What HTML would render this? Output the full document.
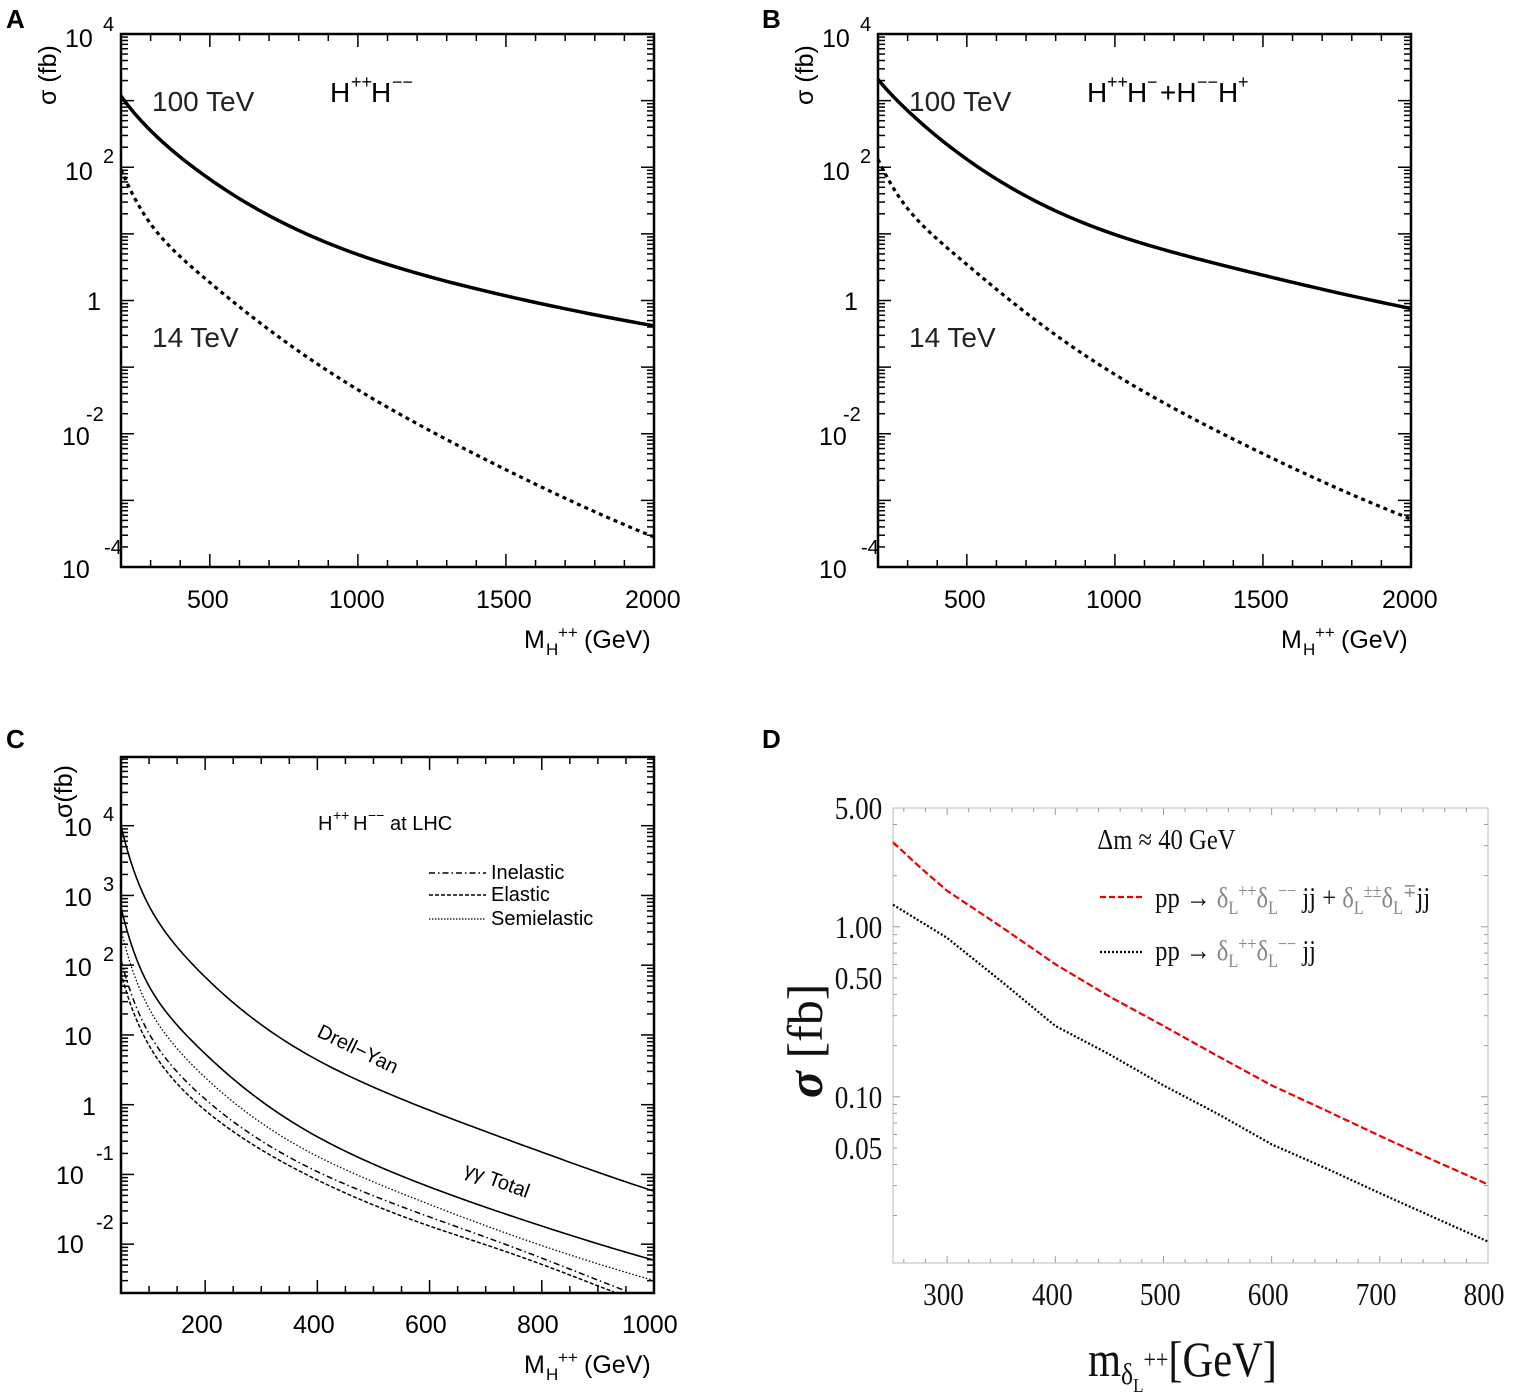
<!DOCTYPE html>
<html><head><meta charset="utf-8">
<style>
html,body{margin:0;padding:0;background:#fff;}
svg{display:block;}
.a{font-family:"Liberation Sans",Arial,sans-serif;}
.s{font-family:"Liberation Serif",serif;}
</style></head>
<body>
<svg id="g" width="1519" height="1398" viewBox="0 0 1519 1398" xmlns="http://www.w3.org/2000/svg">
<rect width="1519" height="1398" fill="#fff"/>
<g class="a" font-weight="bold" font-size="26" fill="#000">
<text x="6" y="28">A</text><text x="762" y="28">B</text><text x="6" y="748">C</text><text x="762" y="748">D</text>
</g>
<g class="a" font-size="25" fill="#000">
<text x="65" y="47">10</text><text x="103" y="31" font-size="20">4</text>
<text x="65" y="180">10</text><text x="103" y="163" font-size="20">2</text>
<text x="87" y="310">1</text>
<text x="62" y="445">10</text><text x="86" y="421" font-size="20">-2</text>
<text x="62" y="578">10</text><text x="104" y="554" font-size="20">-4</text>
<text x="187" y="608">500</text><text x="329" y="608">1000</text><text x="476" y="608">1500</text><text x="625" y="608">2000</text>
<text x="524" y="648">M</text><text x="546" y="655" font-size="17">H</text><text x="558" y="638" font-size="17">++</text><text x="584" y="648">(GeV)</text>
<text transform="translate(56,105) rotate(-90)">σ (fb)</text>
<text x="152" y="111" font-size="28" fill="#222">100 TeV</text>
<text x="152" y="347" font-size="28" fill="#222">14 TeV</text>
<text x="330" y="102" font-size="28">H</text><text x="351" y="88" font-size="18">++</text><text x="371" y="102" font-size="28">H</text><text x="392" y="88" font-size="18">−−</text>
</g>
<g class="a" font-size="25" fill="#000">
<text x="822" y="47">10</text><text x="860" y="31" font-size="20">4</text>
<text x="822" y="180">10</text><text x="860" y="163" font-size="20">2</text>
<text x="844" y="310">1</text>
<text x="819" y="445">10</text><text x="843" y="421" font-size="20">-2</text>
<text x="819" y="578">10</text><text x="861" y="554" font-size="20">-4</text>
<text x="944" y="608">500</text><text x="1086" y="608">1000</text><text x="1233" y="608">1500</text><text x="1382" y="608">2000</text>
<text x="1281" y="648">M</text><text x="1303" y="655" font-size="17">H</text><text x="1315" y="638" font-size="17">++</text><text x="1341" y="648">(GeV)</text>
<text transform="translate(813,105) rotate(-90)">σ (fb)</text>
<text x="909" y="111" font-size="28" fill="#222">100 TeV</text>
<text x="909" y="347" font-size="28" fill="#222">14 TeV</text>
<g font-size="28">
<text x="1087" y="102">H</text><text x="1107" y="88" font-size="18">++</text><text x="1127" y="102">H</text><text x="1147" y="88" font-size="18">−</text><text x="1160" y="102">+H</text><text x="1197" y="88" font-size="18">−−</text><text x="1218" y="102">H</text><text x="1238" y="88" font-size="18">+</text>
</g>
</g>
<g class="a" font-size="25" fill="#000">
<text x="64" y="836">10</text><text x="103" y="821" font-size="20">4</text>
<text x="64" y="906">10</text><text x="103" y="891" font-size="20">3</text>
<text x="64" y="976">10</text><text x="103" y="961" font-size="20">2</text>
<text x="64" y="1045">10</text>
<text x="82" y="1115">1</text>
<text x="56" y="1184">10</text><text x="96" y="1160" font-size="20">-1</text>
<text x="56" y="1253">10</text><text x="96" y="1229" font-size="20">-2</text>
<text x="181" y="1333">200</text><text x="293" y="1333">400</text><text x="405" y="1333">600</text><text x="517" y="1333">800</text><text x="622" y="1333">1000</text>
<text x="524" y="1373">M</text><text x="546" y="1380" font-size="17">H</text><text x="558" y="1363" font-size="17">++</text><text x="584" y="1373">(GeV)</text>
<text transform="translate(72,818) rotate(-90)">σ(fb)</text>
<g font-size="20">
<text x="318" y="830">H</text><text x="333" y="820" font-size="14">++</text><text x="353" y="830">H</text><text x="368" y="820" font-size="14">−−</text><text x="390" y="830">at LHC</text>
<text x="491" y="879">Inelastic</text><text x="491" y="901">Elastic</text><text x="491" y="925">Semielastic</text>
<text transform="translate(316,1036) rotate(26)">Drell−Yan</text>
<text transform="translate(463,1175) rotate(20)">γγ Total</text>
</g>
<line x1="429" y1="873" x2="486" y2="873" stroke="#000" stroke-width="1.5" stroke-dasharray="6,3,1.5,3"/>
<line x1="429" y1="895" x2="486" y2="895" stroke="#000" stroke-width="1.5" stroke-dasharray="4,2"/>
<line x1="429" y1="919" x2="486" y2="919" stroke="#000" stroke-width="1.2" stroke-dasharray="1.5,1.5"/>
</g>
<g class="s" font-size="32" fill="#111">
<g transform="scale(0.85,1)">
<text x="982" y="819">5.00</text>
<text x="982" y="938">1.00</text>
<text x="982" y="989">0.50</text>
<text x="982" y="1108">0.10</text>
<text x="982" y="1159">0.05</text>
<text x="1086" y="1305">300</text><text x="1214" y="1305">400</text><text x="1341" y="1305">500</text><text x="1468" y="1305">600</text><text x="1595" y="1305">700</text><text x="1722" y="1305">800</text>
<text x="1291" y="849" font-size="29">Δm ≈ 40 GeV</text>
<text x="1359" y="907" font-size="29">pp → <tspan fill="#888">δ</tspan><tspan fill="#888" font-size="19" dy="7">L</tspan><tspan font-size="19" dy="-17" fill="#888">++</tspan><tspan fill="#888" dy="10">δ</tspan><tspan fill="#888" font-size="19" dy="7">L</tspan><tspan font-size="19" dy="-17" fill="#888">−−</tspan><tspan dy="10"> jj + </tspan><tspan fill="#888">δ</tspan><tspan fill="#888" font-size="19" dy="7">L</tspan><tspan font-size="19" dy="-17" fill="#888">±±</tspan><tspan fill="#888" dy="10">δ</tspan><tspan fill="#888" font-size="19" dy="7">L</tspan><tspan font-size="19" dy="-17" fill="#888">∓</tspan><tspan dy="10">jj</tspan></text>
<text x="1359" y="960" font-size="29">pp → <tspan fill="#888">δ</tspan><tspan fill="#888" font-size="19" dy="7">L</tspan><tspan font-size="19" dy="-17" fill="#888">++</tspan><tspan fill="#888" dy="10">δ</tspan><tspan fill="#888" font-size="19" dy="7">L</tspan><tspan font-size="19" dy="-17" fill="#888">−−</tspan><tspan dy="10"> jj</tspan></text>
<text x="1280" y="1376" font-size="50">m<tspan font-size="30" dy="8">δ</tspan><tspan font-size="20" dy="8">L</tspan><tspan font-size="26" dy="-24">++</tspan><tspan dy="8">[GeV]</tspan></text>
</g>
<text transform="translate(822,1098) rotate(-90)" font-size="50"><tspan font-weight="bold" font-style="italic">σ</tspan> [fb]</text>
</g>
<line x1="1100" y1="897" x2="1142" y2="897" stroke="#e00" stroke-width="2.2" stroke-dasharray="6,3"/>
<line x1="1100" y1="952" x2="1142" y2="952" stroke="#000" stroke-width="2.2" stroke-dasharray="2,2"/>
<g id="dyn"></g>
</svg>
<script>
(function(){
var NS="http://www.w3.org/2000/svg",G=document.getElementById("dyn");
function el(t,a){var e=document.createElementNS(NS,t);for(var k in a)e.setAttribute(k,a[k]);G.appendChild(e);return e;}
function path(pts,st){var d="";pts.forEach(function(p,i){d+=(i?"L":"M")+p[0].toFixed(2)+","+p[1].toFixed(2);});var a={d:d,fill:"none",stroke:"#000","stroke-width":1.5};for(var k in st)a[k]=st[k];return el("path",a);}
function spline(pts,n){var N=pts.length,t=pts.map(function(p){return Math.log10(p[0]);}),y=pts.map(function(p){return p[1];});
 var h=[],al=[],l=[1],mu=[0],z=[0],c=new Array(N).fill(0),b=[],d=[];
 for(var i=0;i<N-1;i++)h[i]=t[i+1]-t[i];
 for(i=1;i<N-1;i++)al[i]=3/h[i]*(y[i+1]-y[i])-3/h[i-1]*(y[i]-y[i-1]);
 for(i=1;i<N-1;i++){l[i]=2*(t[i+1]-t[i-1])-h[i-1]*mu[i-1];mu[i]=h[i]/l[i];z[i]=(al[i]-h[i-1]*z[i-1])/l[i];}
 l[N-1]=1;z[N-1]=0;
 for(var j=N-2;j>=0;j--){c[j]=z[j]-mu[j]*c[j+1];b[j]=(y[j+1]-y[j])/h[j]-h[j]*(c[j+1]+2*c[j])/3;d[j]=(c[j+1]-c[j])/(3*h[j]);}
 var out=[];for(i=0;i<N-1;i++){for(var k=0;k<n;k++){var tt=t[i]+h[i]*k/n,dt=tt-t[i];out.push([Math.pow(10,tt),y[i]+b[i]*dt+c[i]*dt*dt+d[i]*dt*dt*dt]);}}
 out.push(pts[N-1]);return out;}
function frame(P,sw,col){el("rect",{x:P.x0,y:P.y0,width:P.x1-P.x0,height:P.y1-P.y0,fill:"none",stroke:col||"#000","stroke-width":sw});}
function X(P,v){return P.x0+(v-P.xa)/(P.xb-P.xa)*(P.x1-P.x0);}
function Y(P,L){return P.y1-(L-P.La)/(P.Lb-P.La)*(P.y1-P.y0);}
function ticks(P,xmaj,xmin,big,small,col,sw){
 var c=col||"#000";
 for(var v=Math.ceil(P.xa/xmin)*xmin;v<=P.xb+1e-9;v+=xmin){var x=X(P,v),len=(Math.abs(v/xmaj-Math.round(v/xmaj))<1e-6)?big:small;
  el("line",{x1:x,y1:P.y1,x2:x,y2:P.y1-len,stroke:c,"stroke-width":sw});el("line",{x1:x,y1:P.y0,x2:x,y2:P.y0+len,stroke:c,"stroke-width":sw});}
 for(var d=Math.floor(P.La)-1;d<=Math.ceil(P.Lb);d++){for(var m=1;m<10;m++){var L=d+Math.log10(m);if(L<P.La-1e-9||L>P.Lb+1e-9)continue;var y=Y(P,L),len=m==1?big:small;
  el("line",{x1:P.x0,y1:y,x2:P.x0+len,y2:y,stroke:c,"stroke-width":sw});el("line",{x1:P.x1,y1:y,x2:P.x1-len,y2:y,stroke:c,"stroke-width":sw});}}
}
function curve(P,pts,st,clip){var ip=spline(pts,30).map(function(p){return [X(P,p[0]),Y(P,p[1])];});if(clip)ip=ip.filter(function(p){return p[1]<=P.y1;});return path(ip,st);}
var A={x0:121,x1:654,y0:34,y1:567,xa:200,xb:2000,La:-4,Lb:4};
ticks(A,500,100,13,7,"#000",1.5);frame(A,2.5);
curve(A,[[200,3.07],[300,2.55],[500,1.82],[1000,0.69],[1500,0.07],[2000,-0.38]],{"stroke-width":3.5});
curve(A,[[200,1.97],[300,1.15],[500,0.27],[1000,-1.34],[1500,-2.54],[2000,-3.55]],{"stroke-width":3.2,"stroke-dasharray":"4,4"});
var B={x0:878,x1:1411,y0:34,y1:567,xa:200,xb:2000,La:-4,Lb:4};
ticks(B,500,100,13,7,"#000",1.5);frame(B,2.5);
curve(B,[[200,3.32],[300,2.85],[500,2.12],[1000,0.99],[1500,0.38],[2000,-0.12]],{"stroke-width":3.5});
curve(B,[[200,2.12],[300,1.38],[500,0.54],[1000,-1.11],[1500,-2.3],[2000,-3.28]],{"stroke-width":3.2,"stroke-dasharray":"4,4"});
var C={x0:121,x1:654,y0:757,y1:1293,xa:50,xb:1000,La:-2.7,Lb:4.985};
ticks(C,200,50,13,7,"#000",1.5);frame(C,2.5);
curve(C,[[50,4.0],[100,2.85],[200,1.83],[400,0.64],[600,-0.08],[800,-0.68],[1000,-1.24]],{"stroke-width":1.6});
curve(C,[[50,2.83],[100,1.7],[200,0.73],[400,-0.46],[600,-1.18],[800,-1.74],[1000,-2.23]],{"stroke-width":1.6});
curve(C,[[50,2.51],[100,1.38],[200,0.39],[400,-0.74],[600,-1.43],[800,-2.02],[1000,-2.52]],{"stroke-width":1.3,"stroke-dasharray":"1.5,2"});
curve(C,[[50,2.08],[100,1.02],[200,0.08],[400,-0.96],[600,-1.61],[800,-2.2],[1000,-2.82]],{"stroke-width":1.5,"stroke-dasharray":"6,3,1.5,3"},true);
curve(C,[[50,1.89],[100,0.85],[200,-0.08],[400,-1.08],[600,-1.74],[800,-2.29],[1000,-2.9]],{"stroke-width":1.5,"stroke-dasharray":"4,2"},true);
var D={x0:893,x1:1488,y0:808,y1:1263,xa:250,xb:800,La:-1.978,Lb:0.699};
ticks(D,100,20,7,4,"#999",1);frame(D,1,"#bbb");
function lin(P,pts,st){return path(pts.map(function(p){return [X(P,p[0]),Y(P,p[1])];}),st);}
lin(D,[[250,0.497],[275,0.35],[300,0.212],[350,0.0],[400,-0.22],[450,-0.41],[500,-0.583],[550,-0.76],[600,-0.933],[650,-1.08],[700,-1.23],[750,-1.375],[800,-1.516]],{stroke:"#e00","stroke-width":2.2,"stroke-dasharray":"7,3"});
lin(D,[[250,0.13],[300,-0.065],[350,-0.32],[400,-0.583],[450,-0.75],[500,-0.933],[550,-1.1],[600,-1.28],[650,-1.42],[700,-1.567],[750,-1.71],[800,-1.852]],{stroke:"#000","stroke-width":2.2,"stroke-dasharray":"2,2"});
})();
</script>
</body></html>
